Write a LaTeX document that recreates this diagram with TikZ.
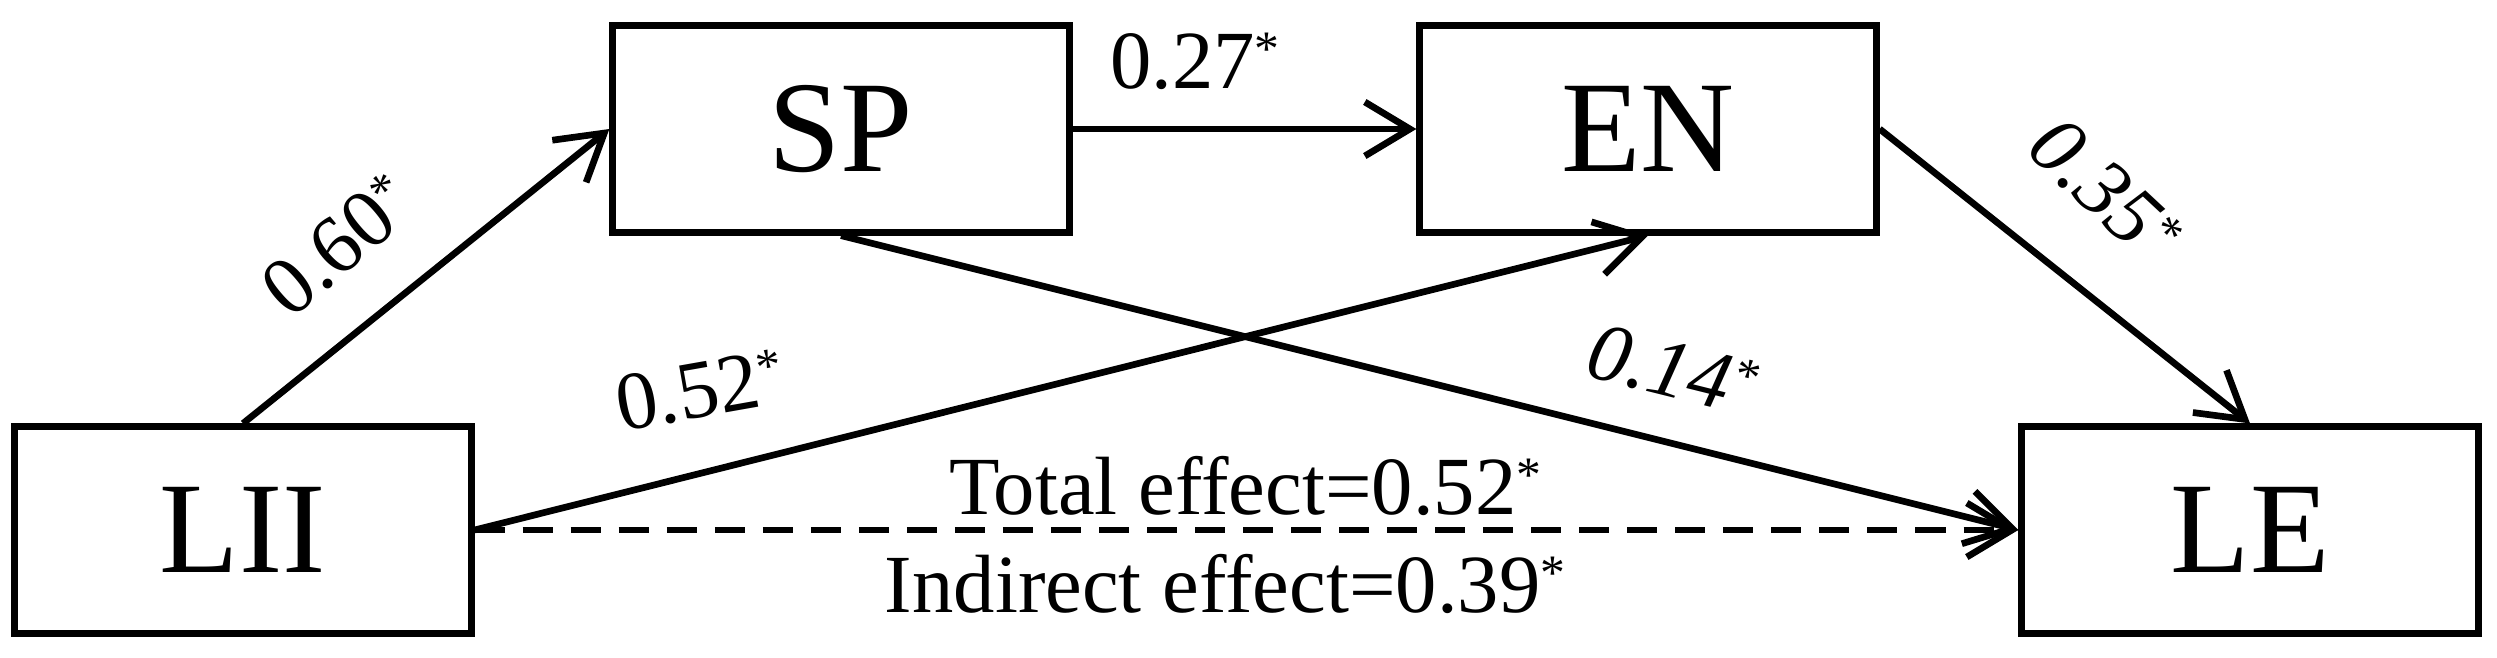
\documentclass[tikz,border=0pt]{standalone}
\usepackage{fontspec}
\setmainfont{Liberation Serif}
\usetikzlibrary{arrows.meta}
\newcommand\sigmark{\raisebox{0.27em}{\scalebox{0.6}{*}}}
\begin{document}
\begin{tikzpicture}[x=0.01cm,y=-0.01cm,
  box/.style={draw, line width=2pt, minimum width=4.56cm, minimum height=2.06cm, inner sep=0pt, font=\fontsize{37}{40}\selectfont},
  conn/.style={line width=1.9pt, -{Straight Barb[length=0.45cm,width=0.54cm]}},
  lbl/.style={font=\fontsize{23.5}{26}\selectfont, inner sep=0pt},
  ilbl/.style={font=\fontsize{23.5}{26}\selectfont\itshape, inner sep=0pt}]
\useasboundingbox (0,0) rectangle (2497,657);
\node[box] (LII) at (243,530) {LII};
\node[box] (SP) at (841,129) {SP};
\node[box] (EN) at (1648,129) {EN};
\node[box] (LE) at (2250,530) {LE};
\draw[conn] (LII.north) -- (SP.west);
\draw[conn] (SP.east) -- (EN.west);
\draw[conn] (EN.east) -- (LE.north);
\draw[conn] (SP.south) -- (LE.west);
\draw[conn] (LII.east) -- (EN.south);
\draw[conn, dash pattern=on 0.3cm off 0.18cm] (LII.east) -- (LE.west);
\node[lbl, rotate=40] (l60) at (338,245) {0.60\sigmark};
\node[lbl, anchor=base] (l27) at (1195,88) {0.27\sigmark};
\node[ilbl, rotate=-43] (l35) at (2105,190) {0.35\sigmark};
\node[ilbl, rotate=-14] (l14) at (1672,370) {0.14\sigmark};
\node[lbl, rotate=10] (l52) at (700,390) {0.52\sigmark};
\node[lbl, anchor=base] (te) at (1245,514) {Total effect=0.52\sigmark};
\node[lbl, anchor=base] (ie) at (1225,612) {Indirect effect=0.39\sigmark};
\end{tikzpicture}
\end{document}
